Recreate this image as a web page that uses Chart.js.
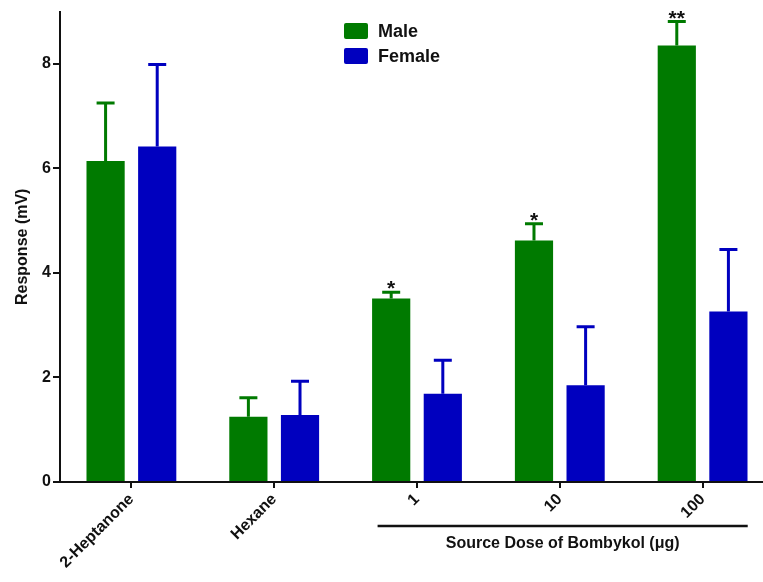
<!DOCTYPE html>
<html><head><meta charset="utf-8">
<script src="https://cdn.jsdelivr.net/npm/chart.js@4"></script>
<style>html,body{margin:0;padding:0;overflow:hidden;background:#fff}#wrap{width:776px;height:582px;position:relative}</style>
</head><body><div id="wrap"><canvas id="c" width="776" height="582"></canvas></div>
<script>
const categories = ['2-Heptanone', 'Hexane', '1', '10', '100'];
const seriesNames = ['Male', 'Female'];
const maleMeans = [6.14, 1.25, 3.51, 4.62, 8.35];
const maleErrors = [1.11, 0.36, 0.12, 0.32, 0.46];
const femaleMeans = [6.42, 1.28, 1.69, 1.85, 3.26];
const femaleErrors = [1.57, 0.65, 0.64, 1.12, 1.19];
const significance = ['', '', '*', '*', '**'];
const yTicks = [0, 2, 4, 6, 8];
const yMax = 9;
const groupTitle = 'Source Dose of Bombykol (\u03BCg)';
const yTitle = 'Response (mV)';

const GREEN = '#007a00', BLUE = '#0000bf', INK = '#111';
const FONT = 'Arial, "Liberation Sans", sans-serif';

const errorPlugin = {
  id: 'errs',
  afterDatasetsDraw(chart) {
    const ctx = chart.ctx, ys = chart.scales.y;
    chart.data.datasets.forEach((ds, di) => {
      const meta = chart.getDatasetMeta(di);
      meta.data.forEach((bar, i) => {
        const top = ys.getPixelForValue(ds.data[i] + ds.errors[i]);
        ctx.save();
        ctx.strokeStyle = ds.backgroundColor;
        ctx.lineWidth = 3;
        ctx.beginPath();
        ctx.moveTo(bar.x, bar.y);
        ctx.lineTo(bar.x, top);
        ctx.moveTo(bar.x - 9, top);
        ctx.lineTo(bar.x + 9, top);
        ctx.stroke();
        if (ds.marks && ds.marks[i]) {
          ctx.fillStyle = INK;
          ctx.font = 'bold 21px ' + FONT;
          ctx.textAlign = 'center';
          ctx.textBaseline = 'alphabetic';
          ctx.fillText(ds.marks[i], bar.x, top + 3);
        }
        ctx.restore();
      });
    });
  }
};

const decorPlugin = {
  id: 'decor',
  afterDraw(chart) {
    const ctx = chart.ctx, xs = chart.scales.x;
    const catW = xs.getPixelForValue(1) - xs.getPixelForValue(0);
    const x1 = xs.getPixelForValue(2) - 0.276 * catW;
    const x2 = xs.getPixelForValue(4) + 0.316 * catW;
    ctx.save();
    ctx.strokeStyle = INK;
    ctx.lineWidth = 2.5;
    ctx.beginPath();
    ctx.moveTo(x1, 526); ctx.lineTo(x2, 526);
    ctx.stroke();
    ctx.fillStyle = INK;
    ctx.font = 'bold 16px ' + FONT;
    ctx.textAlign = 'center';
    ctx.textBaseline = 'middle';
    ctx.fillText(groupTitle, (x1 + x2) / 2, 544);
    ctx.textAlign = 'left';
    ctx.font = 'bold 18px ' + FONT;
    chart.data.datasets.forEach((ds, i) => {
      const cy = 31 + i * 25;
      ctx.fillStyle = ds.backgroundColor;
      ctx.beginPath();
      if (ctx.roundRect) ctx.roundRect(344, cy - 8, 24, 16, 2); else ctx.rect(344, cy - 8, 24, 16);
      ctx.fill();
      ctx.fillStyle = INK;
      ctx.fillText(ds.label, 378, cy + 1);
    });
    ctx.restore();
  }
};

new Chart(document.getElementById('c'), {
  type: 'bar',
  data: {
    labels: categories,
    datasets: [
      { label: seriesNames[0], data: maleMeans, errors: maleErrors, marks: significance, backgroundColor: GREEN },
      { label: seriesNames[1], data: femaleMeans, errors: femaleErrors, backgroundColor: BLUE }
    ]
  },
  options: {
    responsive: false,
    animation: false,
    categoryPercentage: 0.723,
    barPercentage: 0.74,
    layout: { padding: { top: 6, right: 2, left: 0, bottom: 0 } },
    plugins: { legend: { display: false }, tooltip: { enabled: false } },
    scales: {
      x: {
        afterFit(s) { s.height = 100; },
        grid: { display: true, offset: false, drawOnChartArea: false, drawTicks: true, tickLength: 6, color: INK, lineWidth: 2 },
        border: { display: true, color: INK, width: 2 },
        ticks: { color: INK, font: { family: FONT, size: 16, weight: 'bold' }, minRotation: 45, maxRotation: 45, padding: 2 }
      },
      y: {
        min: 0, max: yMax,
        afterFit(s) { s.width = 60; },
        afterBuildTicks(s) { s.ticks = yTicks.map(v => ({ value: v })); },
        grid: { display: true, drawOnChartArea: false, drawTicks: true, tickLength: 7, color: INK, lineWidth: 2 },
        border: { display: true, color: INK, width: 2 },
        ticks: { color: INK, font: { family: FONT, size: 16, weight: 'bold' }, padding: 2 },
        title: { display: true, text: yTitle, color: INK, font: { family: FONT, size: 16, weight: 'bold' }, padding: { top: 13, bottom: 4 } }
      }
    }
  },
  plugins: [errorPlugin, decorPlugin]
});
</script>
</body></html>
